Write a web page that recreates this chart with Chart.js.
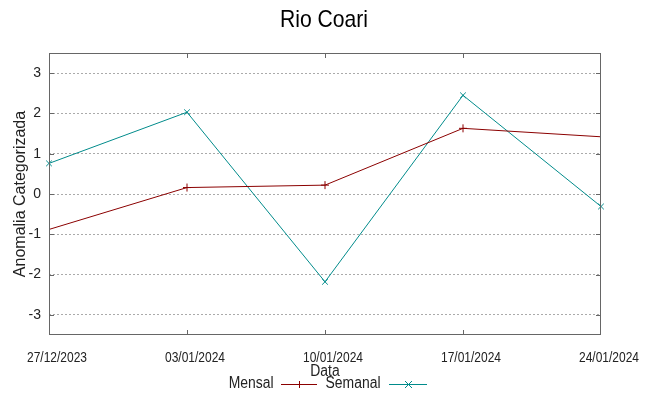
<!DOCTYPE html>
<html>
<head>
<meta charset="utf-8">
<script src="https://cdn.jsdelivr.net/npm/chart.js@4/dist/chart.umd.min.js"></script>
<style>
  html, body { margin: 0; padding: 0; background: #fff; }
  #wrap { width: 649px; height: 396px; position: relative; }
</style>
</head>
<body>
<div id="wrap"><canvas id="chart" width="649" height="396"></canvas></div>
<script>
// days since 27/12/2023
const dayOffsets = [0, 7, 14, 21, 28];
const dateLabels = ["27/12/2023", "03/01/2024", "10/01/2024", "17/01/2024", "24/01/2024"];
const mensal = [-0.88, 0.16, 0.22, 1.63, 1.42];
const semanal = [0.76, 2.03, -2.18, 2.45, -0.31];
const yTicks = [-3, -2, -1, 0, 1, 2, 3];

const RED = "#8b0000";
const TEAL = "#008b8b";
const REGULAR = '"Liberation Sans", Arial, sans-serif';

// text with a horizontal squeeze (gnuplot's face is narrower than Liberation Sans)
function squeezedText(ctx, text, x, baseline, size, squeeze, align) {
  ctx.save();
  ctx.font = size + "px " + REGULAR;
  ctx.textAlign = align;
  ctx.textBaseline = "alphabetic";
  ctx.translate(x, baseline);
  ctx.scale(squeeze, 1);
  ctx.fillText(text, 0, 0);
  ctx.restore();
}

// ─────────── frame, title, legend (gnuplot look) ───────────
const decor = {
  id: "decor",
  afterDraw(chart) {
    const { ctx, chartArea: a, scales } = chart;
    ctx.save();
    // border + inward ticks
    ctx.strokeStyle = "#666";
    ctx.lineWidth = 1;
    ctx.strokeRect(a.left + 0.5, a.top + 0.5, a.right - a.left - 1, a.bottom - a.top - 1);
    ctx.beginPath();
    yTicks.forEach(v => {
      const y = Math.round(scales.y.getPixelForValue(v)) + 0.5;
      ctx.moveTo(a.left, y); ctx.lineTo(a.left + 5, y);
      ctx.moveTo(a.right, y); ctx.lineTo(a.right - 5, y);
    });
    dayOffsets.slice(1, -1).forEach(d => {
      const x = Math.round(scales.x.getPixelForValue(d)) + 0.5;
      ctx.moveTo(x, a.bottom); ctx.lineTo(x, a.bottom - 5);
      ctx.moveTo(x, a.top); ctx.lineTo(x, a.top + 5);
    });
    ctx.stroke();

    // title
    ctx.fillStyle = "#000";
    squeezedText(ctx, "Rio Coari", 324, 26.5, 24, 0.88, "center");

    // x tick labels (gnuplot sets them a little right of the tick)
    ctx.fillStyle = "#222";
    dayOffsets.forEach((d, i) => {
      squeezedText(ctx, dateLabels[i], scales.x.getPixelForValue(d) + 8, 361.5, 15, 0.8, "center");
    });

    // x axis title
    squeezedText(ctx, "Data", 325, 376, 16, 0.87, "center");

    // legend: text then sample
    squeezedText(ctx, "Mensal", 273.5, 388, 16, 0.87, "right");
    squeezedText(ctx, "Semanal", 380.5, 388, 16, 0.87, "right");
    const ly = 384.5;
    const sample = (x0, x1, color, rot) => {
      ctx.strokeStyle = color;
      ctx.beginPath();
      ctx.moveTo(x0, ly); ctx.lineTo(x1, ly);
      const cx = Math.round((x0 + x1) / 2) + 0.5, r = 3.5;
      if (rot) {
        ctx.moveTo(cx - r, ly - r); ctx.lineTo(cx + r, ly + r);
        ctx.moveTo(cx - r, ly + r); ctx.lineTo(cx + r, ly - r);
      } else {
        ctx.moveTo(cx, ly - r); ctx.lineTo(cx, ly + r);
      }
      ctx.stroke();
    };
    sample(281, 317, RED, false);
    sample(389, 427, TEAL, true);
    ctx.restore();
  },
};

new Chart(document.getElementById("chart"), {
  type: "line",
  data: {
    datasets: [{
      label: "Mensal",
      data: dayOffsets.map((d, i) => ({ x: d, y: mensal[i] })),
      borderColor: RED,
      borderWidth: 1,
      pointStyle: "cross",
      pointRadius: [0, 4, 4, 4, 0],
      pointBorderWidth: 1,
      pointBorderColor: RED,
      tension: 0,
      clip: false,
    }, {
      label: "Semanal",
      data: dayOffsets.map((d, i) => ({ x: d, y: semanal[i] })),
      borderColor: TEAL,
      borderWidth: 1,
      pointStyle: "crossRot",
      pointRadius: 4,
      pointBorderWidth: 1,
      pointBorderColor: TEAL,
      tension: 0,
      clip: false,
    }],
  },
  options: {
    responsive: false,
    animation: false,
    events: [],
    layout: { padding: { top: 53, right: 48, left: 0, bottom: 0 } },
    plugins: {
      legend: { display: false },
      title: { display: false },
      tooltip: { enabled: false },
    },
    scales: {
      x: {
        type: "linear",
        min: 0,
        max: 28,
        afterFit: s => { s.height = 61; },
        afterBuildTicks: s => { s.ticks = dayOffsets.map(v => ({ value: v })); },
        grid: { display: false, drawTicks: false },
        border: { display: false },
        ticks: { display: false },
      },
      y: {
        min: -3.5,
        max: 3.5,
        afterFit: s => { s.width = 49; },
        afterBuildTicks: s => { s.ticks = yTicks.map(v => ({ value: v })); },
        grid: { color: "#aaa", lineWidth: 1, drawTicks: false },
        border: { display: false, dash: [2, 2] },
        ticks: {
          padding: 8,
          color: "#222",
          font: { family: REGULAR, size: 14 },
        },
        title: {
          display: true,
          text: "Anomalia Categorizada",
          color: "#222",
          font: { family: REGULAR, size: 16 },
          padding: { top: 11, bottom: 0 },
        },
      },
    },
  },
  plugins: [decor],
});
</script>
</body>
</html>
